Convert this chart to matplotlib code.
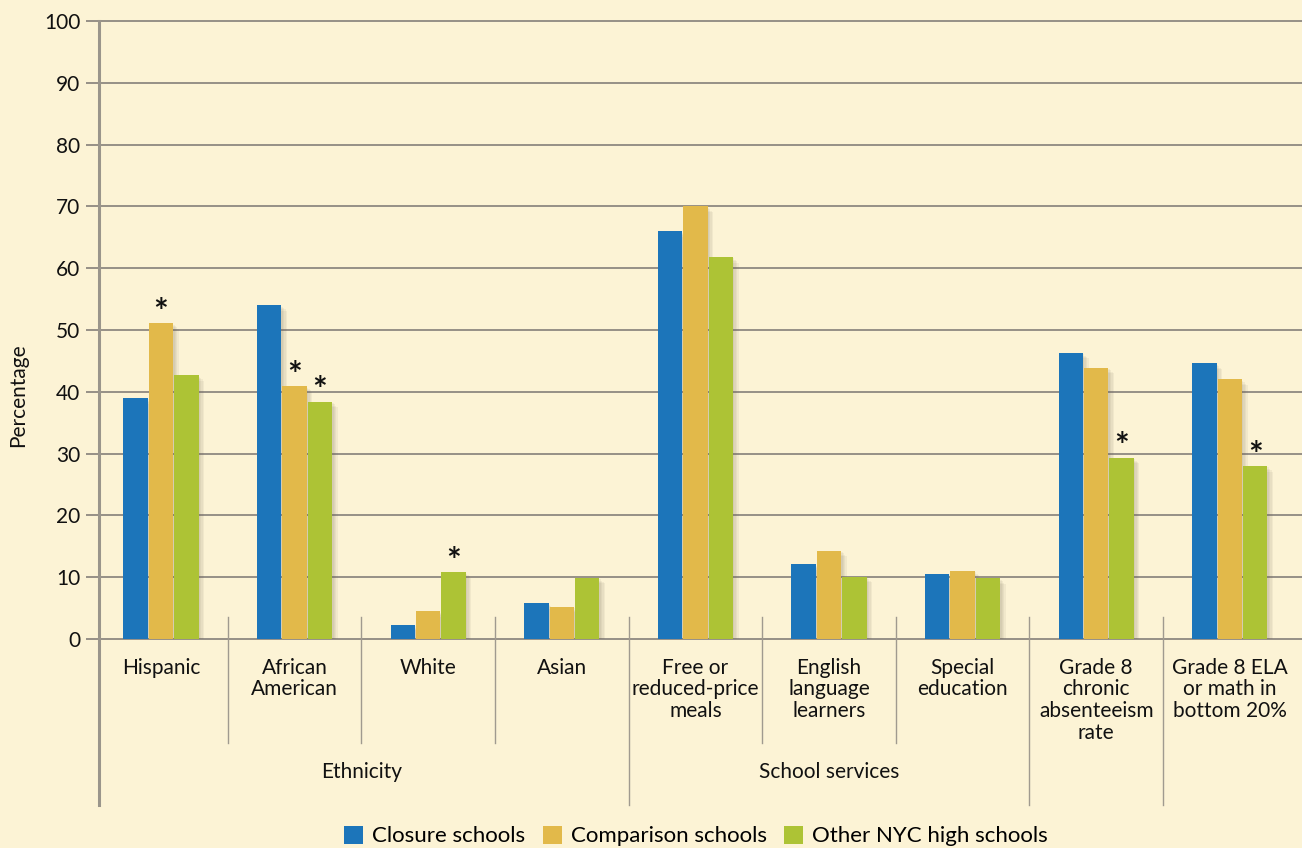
import matplotlib
matplotlib.use("Agg")
import matplotlib.pyplot as plt
import matplotlib.patheffects as pe
from matplotlib.patches import Patch
import numpy as np

plt.rcParams['font.family'] = ['Lato', 'DejaVu Sans']

categories = ["Hispanic", "African\nAmerican", "White", "Asian",
              "Free or\nreduced-price\nmeals", "English\nlanguage\nlearners",
              "Special\neducation", "Grade 8\nchronic\nabsenteeism\nrate",
              "Grade 8 ELA\nor math in\nbottom 20%"]
series_names = ["Closure schools", "Comparison schools", "Other NYC high schools"]
closure = [39.0, 54.0, 2.3, 5.8, 66.0, 12.1, 10.5, 46.3, 44.6]
comparison = [51.1, 40.9, 4.5, 5.2, 70.0, 14.3, 11.0, 43.9, 42.0]
other = [42.7, 38.4, 10.8, 9.9, 61.8, 10.1, 9.8, 29.3, 28.0]
# significance markers (series index, category index)
stars = [(1, 0), (1, 1), (2, 1), (2, 2), (2, 7), (2, 8)]
group_labels = ["Ethnicity", "School services"]
group_spans = [(0, 3), (4, 6)]
yticks = [0, 10, 20, 30, 40, 50, 60, 70, 80, 90, 100]

colors = ["#1C75BA", "#E2B94A", "#ADC335"]
bg = "#FCF3D5"
gridc = "#8E8880"

W, H = 1302, 848
fig = plt.figure(figsize=(W / 100, H / 100), dpi=100, facecolor=bg)
ax = fig.add_axes([99 / W, (H - 639) / H, 1 - 99 / W, 618 / H])
ax.set_facecolor(bg)

x = np.arange(len(categories))
bw = 0.19
series = [closure, comparison, other]
shadow = [pe.SimplePatchShadow(offset=(o, -o), shadow_rgbFace="#6a6050", alpha=0.07)
          for o in (1, 2, 3, 4)] + [pe.Normal()]
for i, vals in enumerate(series):
    ax.bar(x + (i - 1) * bw, vals, width=bw - 0.008, color=colors[i],
           zorder=3, path_effects=shadow)

for si, ci in stars:
    ax.annotate("*", xy=(x[ci] + (si - 1) * bw, series[si][ci]), xytext=(0, -4),
                textcoords="offset points", ha="center", va="bottom",
                fontsize=25, fontweight="bold", color="#111111", zorder=4)

ax.set_xlim(-0.464, 8.54)
ax.set_ylim(0, 100)
ax.set_yticks(yticks)
ax.set_yticklabels([str(t) for t in yticks], fontsize=15, color="#111111")
ax.tick_params(axis="y", length=9.5, width=1.3, color=gridc, pad=4)
ax.set_xticks([])
for t in yticks:
    ax.axhline(t, color=gridc, lw=1.3, zorder=1, clip_on=False)
for s in ax.spines.values():
    s.set_visible(False)

# left spine extended downward
ax.plot([0, 0], [1, -0.269], transform=ax.transAxes, color="#9A958B", lw=2.2,
        clip_on=False, zorder=2)

trans = ax.get_xaxis_transform()
long_seps = {3.5, 6.5, 7.5}
for b in np.arange(0.5, len(categories) - 0.5, 1.0):
    y0 = -0.269 if b in long_seps else -0.168
    ax.plot([b, b], [0.0356, y0], transform=trans, color="#A09A8F", lw=1.0,
            clip_on=False, zorder=2)

for xi, lab in zip(x, categories):
    ax.text(xi, -0.030, lab, transform=trans, ha="center", va="top",
            fontsize=15, linespacing=1.12, color="#111111")

for lab, (a, b) in zip(group_labels, group_spans):
    ax.text((a + b) / 2, -0.215, lab, transform=trans, ha="center", va="center",
            fontsize=15, color="#111111")

fig.text(18 / W, 1 - 395 / H, "Percentage", rotation=90, ha="center", va="center",
         fontsize=15, color="#111111")

handles = [Patch(facecolor=c, edgecolor="none") for c in colors]
fig.legend(handles, series_names, loc="center", bbox_to_anchor=(696 / W, 1 - 836 / H),
           ncol=3, frameon=False, fontsize=16, handlelength=0.85, handleheight=0.9,
           handletextpad=0.4, columnspacing=0.8)

fig.savefig("out.png", dpi=100, facecolor=bg)
